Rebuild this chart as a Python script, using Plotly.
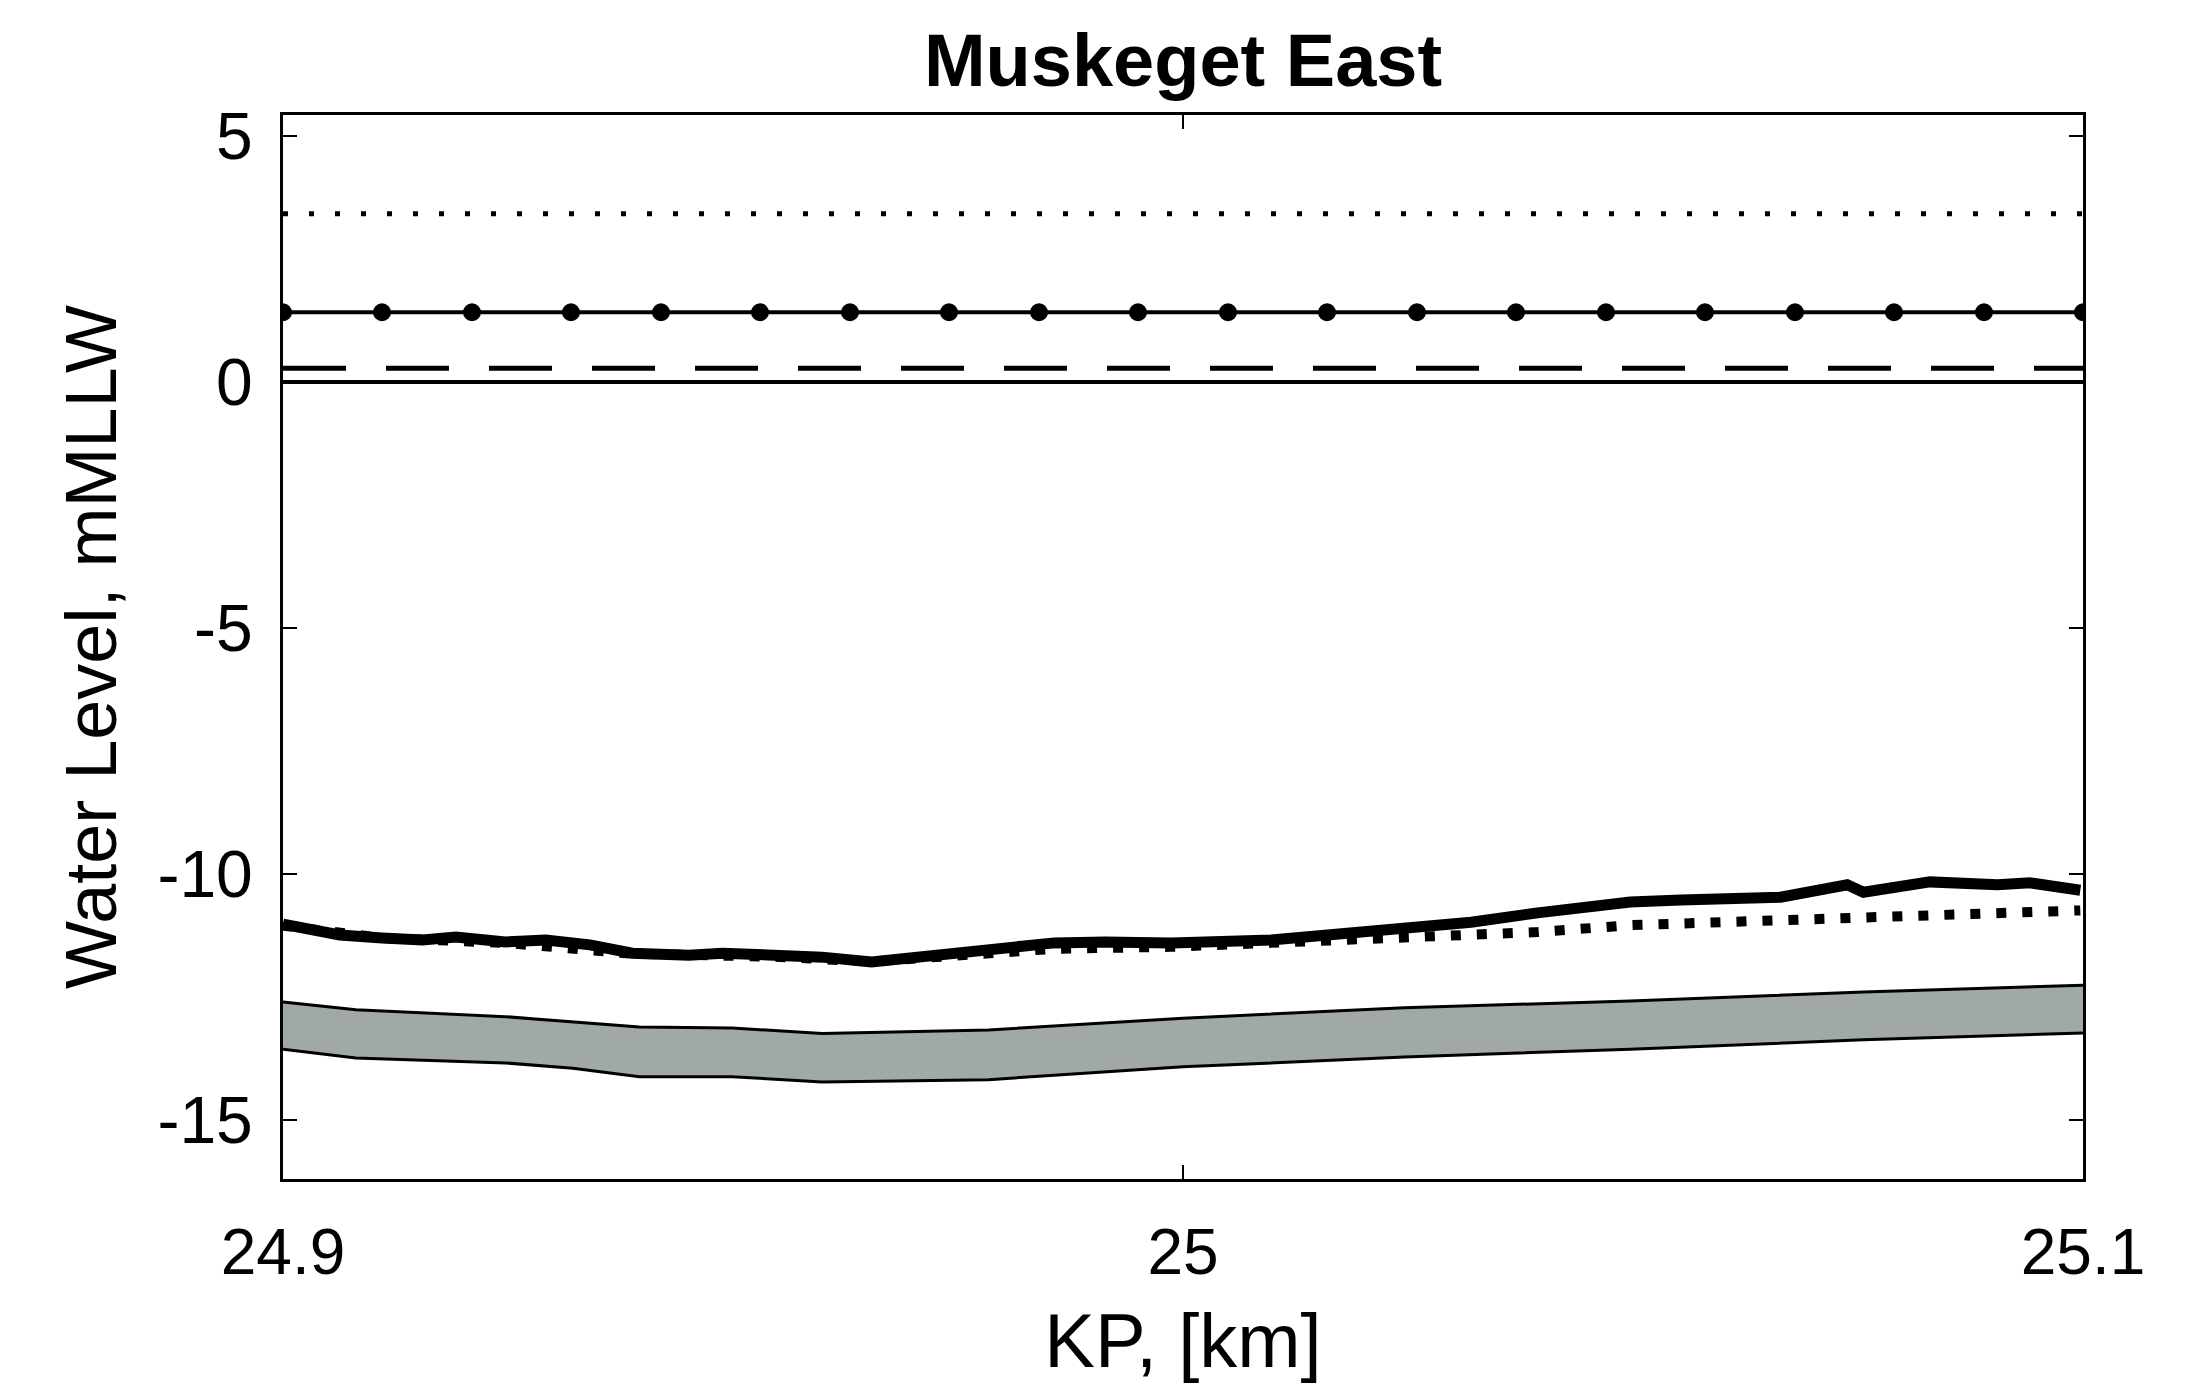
import plotly.graph_objs as go

# KP positions [km] and levels [m MLLW]
kp_profile = [24.900, 24.9033, 24.9063, 24.911, 24.9155, 24.9192, 24.9247, 24.9292,
              24.9341, 24.9388, 24.9451, 24.9488, 24.9544, 24.9599, 24.9654, 24.971,
              24.9747, 24.9821, 24.9857, 24.9913, 24.9987, 25.0098, 25.0209, 25.032,
              25.0394, 25.0497, 25.0553, 25.0664, 25.0738, 25.0756, 25.083, 25.0905,
              25.0941, 25.0997]
survey_profile = [-11.02, -11.15, -11.24, -11.30, -11.34, -11.28, -11.38, -11.34,
                  -11.44, -11.61, -11.65, -11.61, -11.65, -11.69, -11.79, -11.69,
                  -11.59, -11.50, -11.40, -11.38, -11.40, -11.34, -11.18, -10.98,
                  -10.79, -10.57, -10.53, -10.47, -10.22, -10.37, -10.16, -10.22,
                  -10.18, -10.33]

kp_design = [24.900, 24.911, 24.9247, 24.9388, 24.9544, 24.9654, 24.9747, 24.9857,
             24.9987, 25.0098, 25.0209, 25.032, 25.0394, 25.0497, 25.0664, 25.083,
             25.0997]
design_profile = [-11.05, -11.30, -11.40, -11.62, -11.68, -11.78, -11.66, -11.52,
                  -11.48, -11.40, -11.30, -11.24, -11.18, -11.04, -10.93, -10.84,
                  -10.74]

kp_band = [24.900, 24.9081, 24.9247, 24.9322, 24.9396, 24.9499, 24.9599, 24.9784,
           25.000, 25.0246, 25.0497, 25.0756, 25.100]
band_top = [-12.60, -12.76, -12.90, -13.00, -13.11, -13.13, -13.24, -13.17,
            -12.93, -12.72, -12.58, -12.40, -12.26]
band_bottom = [-13.56, -13.74, -13.84, -13.95, -14.12, -14.12, -14.23, -14.18,
               -13.92, -13.72, -13.56, -13.37, -13.23]

kp_ends = [24.9, 25.1]
level_dotted = [3.42, 3.42]
level_dashed = [0.28, 0.28]
level_zero = [0.0, 0.0]

kp_marks = [24.900, 24.911, 24.921, 24.932, 24.942, 24.953, 24.963, 24.974, 24.984, 24.995,
            25.005, 25.016, 25.026, 25.037, 25.047, 25.058, 25.068, 25.079, 25.089, 25.100]
level_marks = [1.42] * len(kp_marks)

y_ticks = [-15, -10, -5, 0, 5]
y_ticklabels = ['-15', '-10', '-5', '0', '5']
x_ticks = [24.9, 25.0, 25.1]
x_ticklabels = ['24.9', '25', '25.1']

FONT = 'Liberation Sans, Arial, Helvetica, sans-serif'

data = [
    go.Scatter(x=kp_band, y=band_bottom, mode='lines',
               line=dict(color='black', width=3)),
    go.Scatter(x=kp_band, y=band_top, mode='lines', fill='tonexty',
               fillcolor='#a0a9a7', line=dict(color='black', width=3)),
    go.Scatter(x=kp_design, y=design_profile, mode='lines',
               line=dict(color='black', width=10, dash='10px,16px')),
    go.Scatter(x=kp_profile, y=survey_profile, mode='lines',
               line=dict(color='black', width=11)),
    go.Scatter(x=kp_ends, y=level_dotted, mode='lines',
               line=dict(color='black', width=5, dash='5px,21px')),
    go.Scatter(x=kp_marks, y=level_marks, mode='lines+markers',
               line=dict(color='black', width=4),
               marker=dict(color='black', size=18)),
    go.Scatter(x=kp_ends, y=level_dashed, mode='lines',
               line=dict(color='black', width=5, dash='63px,40px')),
    go.Scatter(x=kp_ends, y=level_zero, mode='lines',
               line=dict(color='black', width=4)),
]

# page body has an 8px margin, so the figure is made 8px smaller
layout = go.Layout(
    title=dict(text='<b>Muskeget East</b>', xref='paper', x=0.5, xanchor='center',
               yref='container', y=0.962, yanchor='middle',
               font=dict(family=FONT, size=74, color='black')),
    width=2188, height=1381,
    margin=dict(l=275, r=113, t=107, b=210),
    paper_bgcolor='white', plot_bgcolor='white',
    showlegend=False,
    font=dict(family=FONT, color='black'),
    xaxis=dict(title=dict(text='KP, [km]', font=dict(size=76), standoff=28),
               range=[24.9, 25.1], tickvals=x_ticks, ticktext=x_ticklabels,
               tickfont=dict(size=64), ticks='inside', ticklen=14, tickwidth=2,
               tickcolor='black', ticklabelstandoff=15,
               showline=True, linecolor='black', linewidth=3, mirror='ticks',
               showgrid=False, zeroline=False),
    yaxis=dict(title=dict(text='Water Level, mMLLW', font=dict(size=72), standoff=18),
               range=[-16.2, 5.43], tickvals=y_ticks, ticktext=y_ticklabels,
               tickfont=dict(size=66), ticks='inside', ticklen=14, tickwidth=2,
               tickcolor='black', ticklabelstandoff=14,
               showline=True, linecolor='black', linewidth=3, mirror='ticks',
               showgrid=False, zeroline=False),
)

fig = go.Figure(data=data, layout=layout)
fig.write_html('out.html')
